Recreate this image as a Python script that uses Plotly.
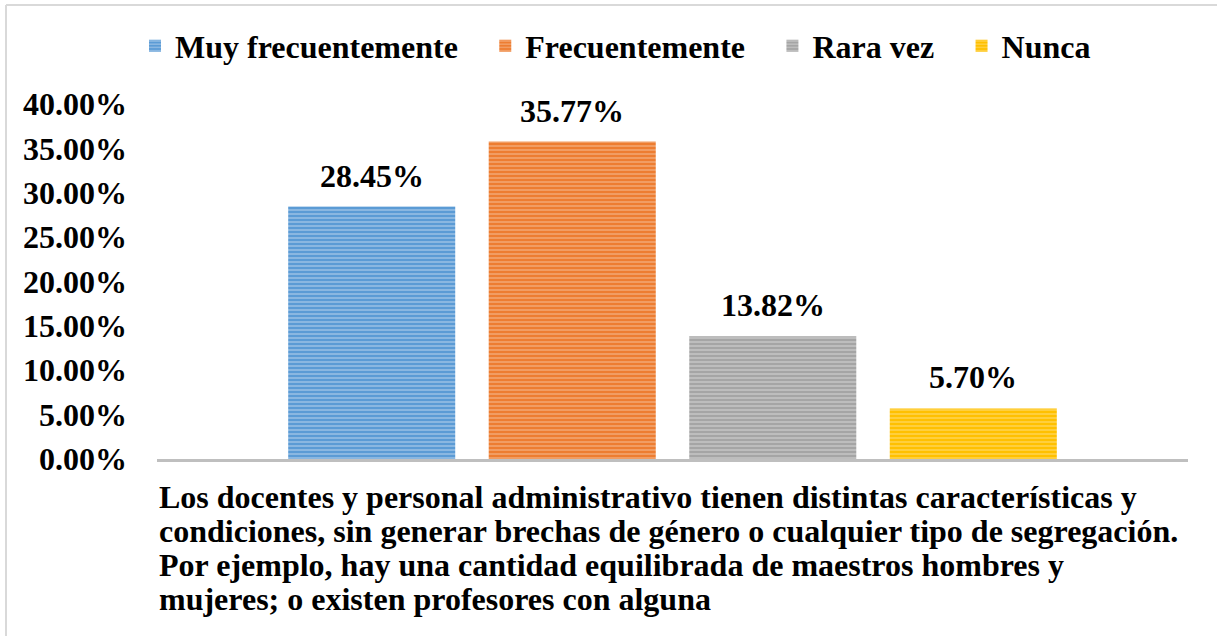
import plotly.graph_objects as go

series = ["Muy frecuentemente", "Frecuentemente", "Rara vez", "Nunca"]
values = [28.45, 35.77, 13.82, 5.70]
colors = ["#5b9bd5", "#ed7d31", "#a5a5a5", "#ffc000"]
stripe = ["#cfe1f3", "#f8cdb0", "#e2e2e2", "#ffe699"]
xlabel_lines = [
    "Los docentes y personal administrativo tienen distintas características y",
    "condiciones, sin generar brechas de género o cualquier tipo de segregación.",
    "Por ejemplo, hay una cantidad equilibrada de maestros hombres y",
    "mujeres; o existen profesores con alguna",
]
yticks = [0, 5, 10, 15, 20, 25, 30, 35, 40]

W, H = 1217, 636
L, R, T, B = 157, 29, 104, 177
FONT = "Liberation Serif"
FS = 32
BARGAP = 0.222
GROUPGAP = 0.167

fig = go.Figure()
n = len(series)
for i, (s, v, c, sc) in enumerate(zip(series, values, colors, stripe)):
    name = f"<b>{s}</b>" + ("&nbsp;&nbsp;\u2009" if i < n - 1 else "")
    fig.add_trace(go.Bar(
        name=name, x=[0], y=[v],
        marker=dict(color=c, line=dict(width=0),
                    pattern=dict(shape="-", fgcolor=sc, bgcolor=c, size=4, solidity=0.4)),
        hoverinfo="skip",
    ))

def px2x(px):
    return (px - L) / (W - L - R)

def py2y(py):
    return (H - B - py) / (H - T - B)

annotations = []
slot = (1 - BARGAP) / n
for i, v in enumerate(values):
    xc = -0.5 + BARGAP / 2 + slot * (i + 0.5)
    annotations.append(dict(
        text=f"<b>{v:.2f}%</b>", x=xc, xref="x", y=v, yref="y",
        xanchor="center", yanchor="bottom", yshift=11, showarrow=False,
        font=dict(family=FONT, size=FS, color="black"),
    ))
for i, line in enumerate(xlabel_lines):
    annotations.append(dict(
        text=f"<b>{line}</b>", x=0, xref="paper", xanchor="left",
        y=py2y(497 + 34 * i), yref="paper", yanchor="middle", showarrow=False,
        font=dict(family=FONT, size=FS, color="black"),
    ))

shapes = [
    dict(type="line", xref="paper", yref="paper", x0=px2x(6), x1=px2x(1217), y0=py2y(5), y1=py2y(5),
         line=dict(color="#d9d9d9", width=2)),
    dict(type="line", xref="paper", yref="paper", x0=px2x(6), x1=px2x(6), y0=py2y(5), y1=py2y(636),
         line=dict(color="#d9d9d9", width=2)),
]

fig.update_layout(
    width=W, height=H,
    margin=dict(l=L, r=R, t=T, b=B),
    paper_bgcolor="white", plot_bgcolor="white",
    barmode="group", bargap=BARGAP, bargroupgap=GROUPGAP,
    font=dict(family=FONT, size=FS, color="black"),
    showlegend=True,
    legend=dict(orientation="h", x=px2x(135), xanchor="left", y=py2y(46), yanchor="middle",
                font=dict(family=FONT, size=FS, color="black"), traceorder="normal"),
    xaxis=dict(range=[-0.5, 0.5], showticklabels=False, showline=True, linecolor="#bfbfbf", linewidth=3,
               ticks="", showgrid=False, zeroline=False, fixedrange=True),
    yaxis=dict(range=[0, 40], tickvals=yticks, ticktext=[f"<b>{t:.2f}%</b>" for t in yticks],
               showgrid=False, zeroline=False, showline=False, ticks="", fixedrange=True,
               ticklabelstandoff=29, tickfont=dict(family=FONT, size=FS, color="black")),
    annotations=annotations, shapes=shapes,
)
fig.write_html("out.html", config={"displayModeBar": False},
               post_script="document.body.style.margin='0px';")
